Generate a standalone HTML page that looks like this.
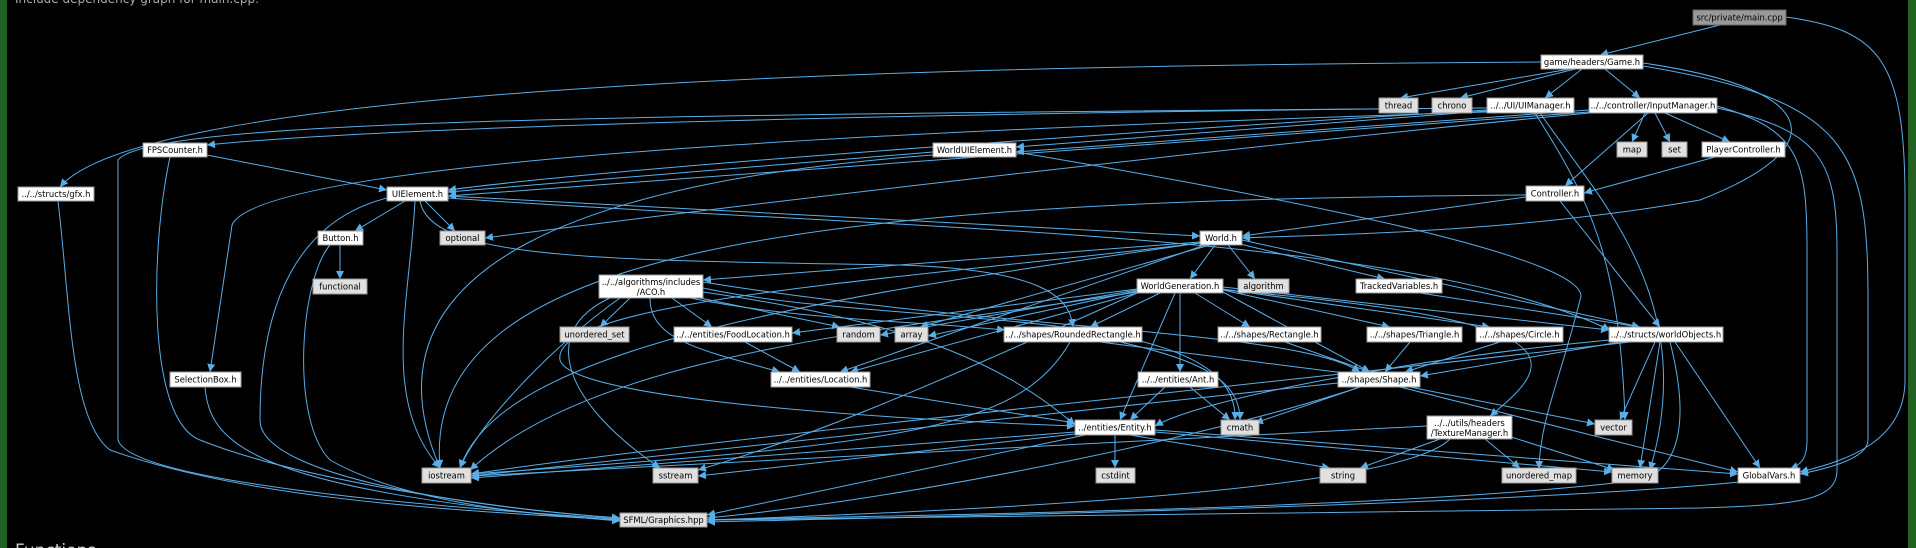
<!DOCTYPE html>
<html><head><meta charset="utf-8"><style>
html,body{margin:0;padding:0;background:#000;width:1916px;height:548px;overflow:hidden}
svg{display:block}
text{font-family:"DejaVu Sans","Liberation Sans",sans-serif;font-size:8.4px;fill:#000}
.e{fill:none;stroke:#5aaee8;stroke-width:1}
.n{fill:#fff;stroke:#999;stroke-width:1}
.g{fill:#e0e0e0;stroke:#999;stroke-width:1}
</style></head><body>
<svg width="1916" height="548" viewBox="0 0 1916 548" xmlns="http://www.w3.org/2000/svg">
<defs><marker id="a" viewBox="0 0 10 10" refX="10" refY="5" markerWidth="8" markerHeight="8" orient="auto" markerUnits="userSpaceOnUse"><path d="M0,0 L10,5 L0,10 z" fill="#5aaee8"/></marker></defs>
<rect x="0" y="0" width="7" height="548" fill="#236023"/>
<rect x="1908" y="0" width="8" height="548" fill="#236023"/>
<text x="15" y="3" style="font-size:12px;fill:#aaa">Include dependency graph for main.cpp:</text>
<text x="15" y="556" style="font-size:17px;fill:#ccc">Functions</text>
<g class="e" marker-end="url(#a)">
<path d="M1720 25 L1600 55"/>
<path d="M1786 17 C1880 30 1905 60 1905 200 L1905 380 C1905 440 1850 460 1800 472"/>
<path d="M1570 69 L1400 98"/>
<path d="M1575 69 L1460 98"/>
<path d="M1582 69 L1545 98"/>
<path d="M1605 69 L1640 98"/>
<path d="M1643 63 C1830 90 1830 150 1700 200 C1500 235 1300 235 1242 238"/>
<path d="M1541 62 C1000 65 150 80 60 187"/>
<path d="M1643 66 C1850 100 1868 150 1868 300 L1868 440 C1868 460 1820 470 1800 474"/>
<path d="M1487 108 C1000 112 400 125 207 145"/>
<path d="M1487 110 C1000 140 600 170 448 190"/>
<path d="M1487 112 C900 130 260 160 232 225 L210 372"/>
<path d="M1487 111 L1016 147"/>
<path d="M1540 113 C1600 200 1700 300 1650 470"/>
<path d="M1535 113 C1590 200 1620 260 1625 420"/>
<path d="M1487 108 C600 115 150 120 118 160 L118 440 C130 480 400 505 620 519"/>
<path d="M1645 113 L1632 142"/>
<path d="M1655 113 L1670 142"/>
<path d="M1665 113 L1730 142"/>
<path d="M1648 113 L1565 186"/>
<path d="M1589 110 L1016 152"/>
<path d="M1589 112 L448 196"/>
<path d="M1589 113 C1200 150 700 210 485 238"/>
<path d="M1717 106 C1800 130 1807 160 1807 250 L1807 440 C1807 460 1800 465 1790 469"/>
<path d="M1717 108 C1820 130 1837 160 1837 250 L1837 470 C1837 500 1800 505 1700 508 C1300 515 900 518 707 520"/>
<path d="M1715 157 L1584 193"/>
<path d="M1526 197 L1242 236"/>
<path d="M1560 201 L1660 327"/>
<path d="M1526 195 C800 200 420 250 440 468"/>
<path d="M207 155 L387 190"/>
<path d="M170 157 C150 250 147 420 200 440 C300 480 500 510 620 518"/>
<path d="M58 201 C70 300 70 420 110 450 C250 500 450 510 620 520"/>
<path d="M405 201 L355 231"/>
<path d="M425 201 L455 231"/>
<path d="M448 196 L1200 236"/>
<path d="M415 201 C410 300 380 400 440 468"/>
<path d="M387 198 C300 220 260 300 260 420 C260 480 500 510 620 518"/>
<path d="M420 201 C430 260 600 260 900 265 C1050 270 1070 300 1073 327"/>
<path d="M448 198 C900 230 1400 230 1610 330"/>
<path d="M340 245 L340 279"/>
<path d="M330 245 C300 280 290 420 330 460 C400 500 520 515 620 520"/>
<path d="M933 152 L448 192"/>
<path d="M933 155 C600 180 350 260 440 468"/>
<path d="M1016 152 C1300 200 1600 260 1580 300 C1560 380 1540 420 1539 469"/>
<path d="M205 387 C210 440 240 490 620 521"/>
<path d="M1200 242 L703 280"/>
<path d="M1215 245 L1190 279"/>
<path d="M1228 245 L1255 279"/>
<path d="M1240 244 L1385 279"/>
<path d="M1242 240 L1640 327"/>
<path d="M1205 245 L840 372"/>
<path d="M1200 243 C900 280 550 300 560 360 C570 400 900 420 1075 426"/>
<path d="M1200 243 C800 300 500 350 460 468"/>
<path d="M1210 245 L920 327"/>
<path d="M630 298 L600 327"/>
<path d="M672 298 L712 327"/>
<path d="M700 298 L840 327"/>
<path d="M650 298 C650 340 700 350 780 372"/>
<path d="M703 292 C900 320 1000 360 1075 425"/>
<path d="M620 298 C560 340 480 420 460 468"/>
<path d="M610 298 C540 330 560 400 660 468"/>
<path d="M703 288 C900 330 1240 300 1235 420"/>
<path d="M703 282 C1000 330 1300 330 1360 372"/>
<path d="M690 298 C800 320 900 320 1005 330"/>
<path d="M1160 293 L1090 327"/>
<path d="M1195 293 L1250 327"/>
<path d="M1223 290 L1390 327"/>
<path d="M1223 289 L1490 327"/>
<path d="M1223 287 L1609 330"/>
<path d="M1223 292 L1370 372"/>
<path d="M1180 293 L1180 372"/>
<path d="M1175 293 L1120 420"/>
<path d="M1137 290 L880 335"/>
<path d="M1137 291 L928 336"/>
<path d="M1137 289 L792 333"/>
<path d="M1137 293 L850 372"/>
<path d="M1137 292 C900 330 600 350 470 470"/>
<path d="M1223 290 C1580 320 1560 360 1490 416"/>
<path d="M1137 293 C900 400 800 440 698 470"/>
<path d="M1420 293 L1640 327"/>
<path d="M745 342 L800 372"/>
<path d="M1100 342 L1360 375"/>
<path d="M1120 342 C1200 360 1240 380 1240 420"/>
<path d="M1070 342 C1020 430 900 445 471 474"/>
<path d="M1285 342 L1370 372"/>
<path d="M1410 342 L1385 372"/>
<path d="M1500 342 L1405 372"/>
<path d="M1620 342 L1420 376"/>
<path d="M1655 342 L1620 420"/>
<path d="M1660 342 L1640 468"/>
<path d="M1675 342 L1760 468"/>
<path d="M1670 342 C1690 420 1680 470 1640 480 C1400 510 900 515 707 520"/>
<path d="M1609 340 C1400 360 1200 400 1155 426"/>
<path d="M1630 342 C1300 380 700 440 471 474"/>
<path d="M850 387 L1075 423"/>
<path d="M1165 387 L1130 420"/>
<path d="M1190 387 L1230 420"/>
<path d="M1360 387 L1255 423"/>
<path d="M1410 387 L1595 424"/>
<path d="M1400 387 L1738 472"/>
<path d="M1360 387 C1200 440 900 500 707 518"/>
<path d="M1338 383 L471 476"/>
<path d="M1115 435 L1115 468"/>
<path d="M1130 435 L1330 468"/>
<path d="M1155 432 L1612 472"/>
<path d="M1155 430 L1738 474"/>
<path d="M1075 432 L471 478"/>
<path d="M1075 434 L698 476"/>
<path d="M1085 435 L707 515"/>
<path d="M1440 439 L1360 468"/>
<path d="M1485 439 L1520 468"/>
<path d="M1505 435 L1615 470"/>
<path d="M1450 439 C1400 490 1000 510 707 520"/>
<path d="M1427 426 L471 476"/>
<path d="M1740 482 C1500 505 1000 515 707 522"/>
</g>
<g>
<rect x="1693" y="10" width="93" height="15" fill="#999" stroke="#666"/><text x="1739.5" y="20.5" text-anchor="middle">src/private/main.cpp</text>
<g text-anchor="middle">
<rect class="n" x="1541" y="55" width="102" height="14"/><text x="1592" y="65">game/headers/Game.h</text>
<rect class="g" x="1379" y="98" width="39" height="15"/><text x="1398.5" y="108.5">thread</text>
<rect class="g" x="1432" y="98" width="40" height="15"/><text x="1452" y="108.5">chrono</text>
<rect class="n" x="1487" y="98" width="87" height="15"/><text x="1530.5" y="108.5">../../UI/UIManager.h</text>
<rect class="n" x="1589" y="98" width="128" height="15"/><text x="1653" y="108.5">../../controller/InputManager.h</text>
<rect class="g" x="1617" y="142" width="30" height="15"/><text x="1632" y="152.5">map</text>
<rect class="g" x="1662" y="142" width="25" height="15"/><text x="1674.5" y="152.5">set</text>
<rect class="n" x="1702" y="142" width="83" height="15"/><text x="1743.5" y="152.5">PlayerController.h</text>
<rect class="n" x="1526" y="186" width="58" height="15"/><text x="1555" y="196.5">Controller.h</text>
<rect class="n" x="18" y="187" width="76" height="14"/><text x="56" y="197">../../structs/gfx.h</text>
<rect class="n" x="143" y="143" width="64" height="14"/><text x="175" y="153">FPSCounter.h</text>
<rect class="n" x="387" y="187" width="61" height="14"/><text x="417.5" y="197">UIElement.h</text>
<rect class="n" x="318" y="231" width="45" height="14"/><text x="340.5" y="241">Button.h</text>
<rect class="g" x="440" y="231" width="45" height="14"/><text x="462.5" y="241">optional</text>
<rect class="n" x="933" y="143" width="83" height="14"/><text x="974.5" y="153">WorldUIElement.h</text>
<rect class="n" x="1200" y="231" width="42" height="14"/><text x="1221" y="241">World.h</text>
<rect class="g" x="313" y="279" width="54" height="15"/><text x="340" y="289.5">functional</text>
<rect class="n" x="170" y="372" width="71" height="15"/><text x="205.5" y="382.5">SelectionBox.h</text>
<rect class="g" x="422" y="468" width="49" height="15"/><text x="446.5" y="478.5">iostream</text>
<rect class="g" x="620" y="513" width="87" height="14"/><text x="663.5" y="523">SFML/Graphics.hpp</text>
<rect class="g" x="560" y="327" width="69" height="15"/><text x="594.5" y="337.5">unordered_set</text>
<rect class="n" x="599" y="275" width="104" height="23"/><text x="651" y="285">../../algorithms/includes</text><text x="651" y="295">/ACO.h</text>
<rect class="n" x="674" y="327" width="118" height="15"/><text x="733" y="337.5">../../entities/FoodLocation.h</text>
<rect class="g" x="837" y="327" width="43" height="15"/><text x="858.5" y="337.5">random</text>
<rect class="g" x="895" y="327" width="33" height="15"/><text x="911.5" y="337.5">array</text>
<rect class="n" x="1004" y="327" width="138" height="15"/><text x="1073" y="337.5">../../shapes/RoundedRectangle.h</text>
<rect class="n" x="1137" y="279" width="86" height="14"/><text x="1180" y="289">WorldGeneration.h</text>
<rect class="g" x="1238" y="279" width="51" height="14"/><text x="1263.5" y="289">algorithm</text>
<rect class="n" x="1356" y="279" width="86" height="14"/><text x="1399" y="289">TrackedVariables.h</text>
<rect class="n" x="1218" y="327" width="103" height="15"/><text x="1269.5" y="337.5">../../shapes/Rectangle.h</text>
<rect class="n" x="1367" y="327" width="95" height="15"/><text x="1414.5" y="337.5">../../shapes/Triangle.h</text>
<rect class="n" x="1476" y="327" width="87" height="15"/><text x="1519.5" y="337.5">../../shapes/Circle.h</text>
<rect class="n" x="1609" y="327" width="114" height="15"/><text x="1666" y="337.5">../../structs/worldObjects.h</text>
<rect class="n" x="771" y="372" width="99" height="15"/><text x="820.5" y="382.5">../../entities/Location.h</text>
<rect class="n" x="1138" y="372" width="80" height="15"/><text x="1178" y="382.5">../../entities/Ant.h</text>
<rect class="n" x="1338" y="372" width="82" height="15"/><text x="1379" y="382.5">../shapes/Shape.h</text>
<rect class="n" x="1075" y="420" width="80" height="15"/><text x="1115" y="430.5">../entities/Entity.h</text>
<rect class="g" x="1221" y="420" width="38" height="15"/><text x="1240" y="430.5">cmath</text>
<rect class="n" x="1427" y="416" width="85" height="23"/><text x="1469.5" y="426">../../utils/headers</text><text x="1469.5" y="436">/TextureManager.h</text>
<rect class="g" x="1595" y="420" width="37" height="15"/><text x="1613.5" y="430.5">vector</text>
<rect class="g" x="653" y="468" width="45" height="15"/><text x="675.5" y="478.5">sstream</text>
<rect class="g" x="1096" y="468" width="39" height="15"/><text x="1115.5" y="478.5">cstdint</text>
<rect class="g" x="1320" y="468" width="46" height="15"/><text x="1343" y="478.5">string</text>
<rect class="g" x="1502" y="468" width="74" height="15"/><text x="1539" y="478.5">unordered_map</text>
<rect class="g" x="1612" y="468" width="46" height="15"/><text x="1635" y="478.5">memory</text>
<rect class="n" x="1738" y="468" width="62" height="15"/><text x="1769" y="478.5">GlobalVars.h</text>
</g></g>
</svg>
</body></html>
